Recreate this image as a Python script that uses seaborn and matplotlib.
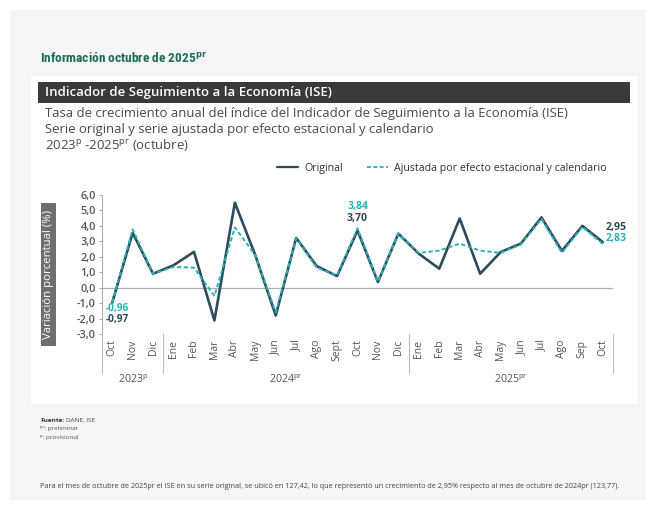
import numpy as np
import pandas as pd
import matplotlib
matplotlib.use("Agg")
import matplotlib.pyplot as plt
import matplotlib.transforms as mtransforms
from matplotlib.patches import Rectangle
import seaborn as sns

# ---------------- data ----------------
months = ["Oct", "Nov", "Dic",
          "Ene", "Feb", "Mar", "Abr", "May", "Jun", "Jul", "Ago", "Sept", "Oct", "Nov", "Dic",
          "Ene", "Feb", "Mar", "Abr", "May", "Jun", "Jul", "Ago", "Sep", "Oct"]
original = [-0.97, 3.55, 0.90,
            1.45, 2.32, -2.12, 5.50, 2.10, -1.80, 3.22, 1.40, 0.75, 3.70, 0.37, 3.50,
            2.20, 1.23, 4.48, 0.90, 2.30, 2.86, 4.55, 2.38, 4.00, 2.95]
ajustada = [-0.96, 3.77, 0.90,
            1.34, 1.30, -0.54, 3.90, 2.10, -1.60, 3.20, 1.30, 0.80, 3.84, 0.40, 3.50,
            2.25, 2.40, 2.85, 2.40, 2.25, 2.80, 4.45, 2.25, 3.94, 2.83]
years = ["2023$^{\\mathrm{p}}$", "2024$^{\\mathrm{pr}}$", "2025$^{\\mathrm{pr}}$"]
year_spans = [(0, 2), (3, 14), (15, 24)]
yticks = [-3, -2, -1, 0, 1, 2, 3, 4, 5, 6]
ytick_labels = ["-3,0", "-2,0", "-1,0", "0,0", "1,0", "2,0", "3,0", "4,0", "5,0", "6,0"]
series_names = ["Original", "Ajustada por efecto estacional y calendario"]

# ---------------- style ----------------
sns.set_theme(style="white")
plt.rcParams["font.family"] = ["Open Sans", "DejaVu Sans"]
plt.rcParams["mathtext.fontset"] = "custom"
plt.rcParams["mathtext.rm"] = "Open Sans"
plt.rcParams["mathtext.it"] = "Open Sans:italic"
plt.rcParams["mathtext.bf"] = "Open Sans:bold"

C_ORIG = "#2d4b5c"
C_ADJ = "#2bb3b3"
C_TXT = "#4a4a4a"

W, H = 646, 505
fig = plt.figure(figsize=(W / 100, H / 100), dpi=100)
fig.patch.set_facecolor("white")


def fx(x):
    return x / W


def fy(y):
    return 1 - y / H


# backgrounds
fig.patches.append(Rectangle((fx(10), fy(500)), fx(646 - 10), (500 - 10) / H,
                             transform=fig.transFigure, facecolor="#f5f5f5",
                             edgecolor="none", zorder=-10))
fig.patches.append(Rectangle((fx(31), fy(404)), fx(638 - 31), (404 - 76) / H,
                             transform=fig.transFigure, facecolor="white",
                             edgecolor="none", zorder=-9))
fig.patches.append(Rectangle((fx(38), fy(103)), fx(630 - 38), (103 - 82) / H,
                             transform=fig.transFigure, facecolor="#3a3a3a",
                             edgecolor="none", zorder=-8))
fig.patches.append(Rectangle((fx(41), fy(346)), fx(15), (346 - 203) / H,
                             transform=fig.transFigure, facecolor="#6f6f6f",
                             edgecolor="none", zorder=-8))

# texts
fig.text(fx(40), fy(58), "Información octubre de 2025$^{\\mathbf{pr}}$",
         family=["Roboto Condensed", "Roboto", "DejaVu Sans"], weight="bold",
         fontsize=9.6, color="#1e6c58", va="center", ha="left")
fig.text(fx(45), fy(92.5), "Indicador de Seguimiento a la Economía (ISE)",
         color="white", fontsize=9.5, weight="semibold", va="center", ha="left")
fig.text(fx(45), fy(113), "Tasa de crecimiento anual del índice del Indicador de Seguimiento a la Economía (ISE)",
         color=C_TXT, fontsize=9.45, va="center", ha="left")
fig.text(fx(45), fy(129), "Serie original y serie ajustada por efecto estacional y calendario",
         color=C_TXT, fontsize=9.45, va="center", ha="left")
fig.text(fx(45), fy(145), "2023$^{\\mathrm{p}}$ -2025$^{\\mathrm{pr}}$ (octubre)",
         color=C_TXT, fontsize=9.45, va="center", ha="left")
fig.text(fx(48.5), fy(274.5), "Variación porcentual (%)", rotation=90, color="white",
         fontsize=8.2, va="center", ha="center")

renderer = fig.canvas.get_renderer()
t_f = fig.text(fx(40), fy(420), "Fuente:", color="#333333", fontsize=4.6, weight="bold",
               va="center", ha="left")
bb = t_f.get_window_extent(renderer=renderer)
fig.text(bb.x1 / W + fx(1.5), fy(420), "DANE, ISE", color="#444444", fontsize=4.6,
         va="center", ha="left")
fig.text(fx(40), fy(428.5), "\u1d56\u02b3: preliminar", color="#555555", fontsize=4.6,
         va="center", ha="left")
fig.text(fx(40), fy(437), "\u1d56: provisional", color="#555555", fontsize=4.6,
         va="center", ha="left")
fig.text(fx(40), fy(486), "Para el mes de octubre de 2025pr el ISE en su serie original, se ubicó en 127,42, "
         "lo que representó un crecimiento de 2,95% respecto al mes de octubre de 2024pr (123,77).",
         color="#444444", fontsize=5.25, va="center", ha="left")

# ---------------- axes ----------------
ax = fig.add_axes([fx(102), fy(334), fx(613 - 102), (334 - 195) / H])
ax.set_facecolor("none")
x = np.arange(len(months))
df = pd.DataFrame({"x": np.concatenate([x, x]),
                   "v": original + ajustada,
                   "serie": [series_names[0]] * len(x) + [series_names[1]] * len(x)})
sns.lineplot(data=df, x="x", y="v", hue="serie", style="serie",
             palette={series_names[0]: C_ORIG, series_names[1]: C_ADJ},
             dashes={series_names[0]: "", series_names[1]: (2.2, 1.3)},
             ax=ax, legend=True, sort=False)
for ln, lw in zip(ax.lines[:2], [1.9, 1.4]):
    ln.set_linewidth(lw)
    ln.set_solid_joinstyle("round")
    ln.set_dash_joinstyle("round")
    ln.set_solid_capstyle("round")
ax.lines[0].set_zorder(3)
ax.lines[1].set_zorder(4)

ax.axhline(0, color="#b0b0b0", lw=0.9, zorder=1)
ax.set_xlim(-0.5, len(months) - 0.5)
ax.set_ylim(-3, 6)
ax.set_yticks(yticks)
ax.set_yticklabels(ytick_labels, fontsize=7.8, color="#555555", weight="semibold")
ax.set_xticks(x)
ax.set_xticklabels(months, rotation=90, fontsize=7.5, color="#555555")
ax.tick_params(axis="y", length=2.5, width=0.6, color="#999999", pad=2, left=True)
ax.tick_params(axis="x", length=0, pad=4)
ax.set_xlabel("")
ax.set_ylabel("")
for s in ["top", "right", "bottom"]:
    ax.spines[s].set_visible(False)
ax.spines["left"].set_color("#b0b0b0")
ax.spines["left"].set_linewidth(0.8)

# legend
h, l = ax.get_legend_handles_labels()
for hh, lw in zip(h, [1.6, 1.3]):
    hh.set_linewidth(lw)
ax.legend(h, l, loc="center left", bbox_to_anchor=(fx(267), fy(168)),
          bbox_transform=fig.transFigure, ncol=2, frameon=False, fontsize=7.7,
          handlelength=2.0, handletextpad=0.6, columnspacing=2.2,
          labelcolor="#333333")

# group separators and year labels
blend = mtransforms.blended_transform_factory(ax.transData, ax.transAxes)
for xs in [-0.5, 2.5, 14.5, len(months) - 0.5]:
    ax.plot([xs, xs], [0, -0.28], transform=blend, color="#bbbbbb", lw=0.8, clip_on=False)
for lab, (a, b) in zip(years, year_spans):
    ax.text((a + b) / 2, -0.33, lab, transform=blend, ha="center", va="center",
            fontsize=7.6, color="#555555")

# value annotations
ax.text(-0.3, ajustada[0] - 0.36, "-0,96", color=C_ADJ, fontsize=7.2, weight="bold",
        ha="left", va="center")
ax.text(-0.3, original[0] - 1.08, "-0,97", color=C_ORIG, fontsize=7.2, weight="bold",
        ha="left", va="center")
ax.text(12, ajustada[12] + 1.44, "3,84", color=C_ADJ, fontsize=7.6, weight="bold",
        ha="center", va="center")
ax.text(12, original[12] + 0.8, "3,70", color=C_ORIG, fontsize=7.6, weight="bold",
        ha="center", va="center")
ax.text(24.15, original[24] + 0.97, "2,95", color=C_ORIG, fontsize=7.6, weight="bold",
        ha="left", va="center")
ax.text(24.15, ajustada[24] + 0.37, "2,83", color=C_ADJ, fontsize=7.6, weight="bold",
        ha="left", va="center")

fig.savefig("out.png", dpi=100, facecolor=fig.get_facecolor())
